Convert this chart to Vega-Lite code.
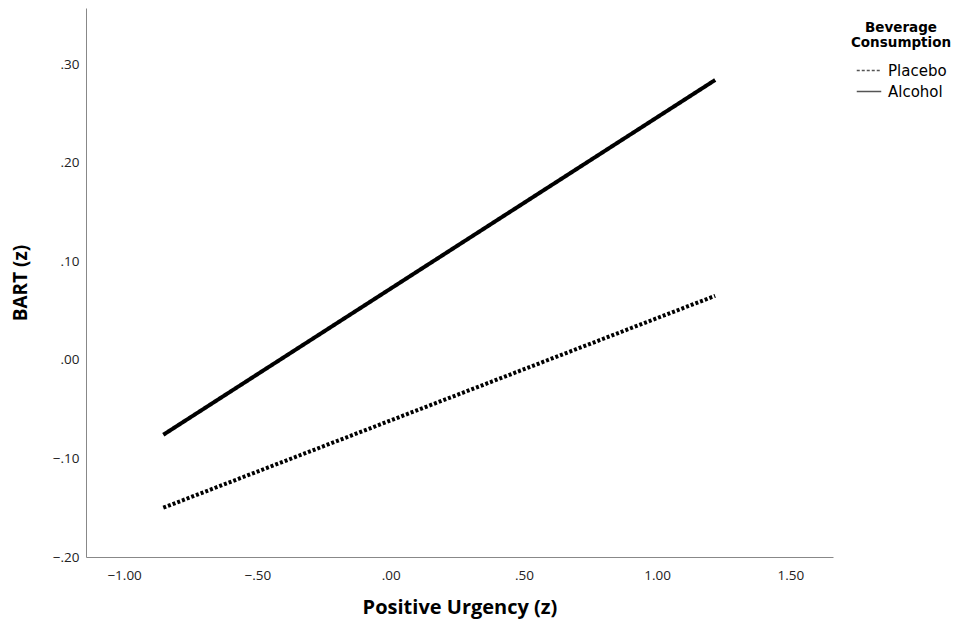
{
  "$schema": "https://vega.github.io/schema/vega-lite/v6.json",
  "autosize": "none",
  "width": 747,
  "height": 549,
  "padding": {"left": 86, "top": 8, "right": 123, "bottom": 72},
  "background": "white",
  "config": {
    "view": {"stroke": null},
    "font": "Open Sans"
  },
  "data": {
    "values": [
      {"urgency": -0.853, "bart": -0.150, "group": "Placebo"},
      {"urgency": 1.218, "bart": 0.065, "group": "Placebo"},
      {"urgency": -0.853, "bart": -0.076, "group": "Alcohol"},
      {"urgency": 1.218, "bart": 0.284, "group": "Alcohol"}
    ]
  },
  "mark": {"type": "line", "strokeWidth": 4, "strokeCap": "butt", "color": "black"},
  "encoding": {
    "x": {
      "field": "urgency", "type": "quantitative",
      "scale": {"domain": [-1.143, 1.66], "nice": false, "zero": false},
      "axis": {
        "title": "Positive Urgency (z)", "titleFont": "Open Sans", "titleFontSize": 20, "titleFontWeight": "bold",
        "titleColor": "black", "titlePadding": 16,
        "values": [-1, -0.5, 0, 0.5, 1, 1.5],
        "labelExpr": "replace(format(datum.value, '.2f'), '0.', '.')",
        "labelFontSize": 13.5, "labelColor": "#222", "labelPadding": 11,
        "ticks": false, "grid": false, "domainColor": "#888", "domainWidth": 1
      }
    },
    "y": {
      "field": "bart", "type": "quantitative",
      "scale": {"domain": [-0.2, 0.357], "nice": false, "zero": false},
      "axis": {
        "title": "BART (z)", "titleFont": "Open Sans", "titleFontSize": 19, "titleFontWeight": "bold",
        "titleColor": "black", "titlePadding": 22,
        "values": [-0.2, -0.1, 0, 0.1, 0.2, 0.3],
        "labelExpr": "replace(format(datum.value, '.2f'), '0.', '.')",
        "labelFontSize": 13.5, "labelColor": "#222", "labelPadding": 7,
        "ticks": false, "grid": false, "domainColor": "#888", "domainWidth": 1
      }
    },
    "strokeDash": {
      "field": "group", "type": "nominal",
      "scale": {"domain": ["Placebo", "Alcohol"], "range": [[3, 2], [1, 0]]},
      "legend": {
        "title": ["Beverage", "Consumption"],
        "orient": "none", "legendX": 765, "legendY": 13,
        "titleFont": "DejaVu Sans", "titleFontSize": 13.5, "titleFontWeight": "bold", "titleColor": "black",
        "titleAlign": "center", "titleAnchor": "middle",
        "titleLineHeight": 15, "titlePadding": 8,
        "labelFont": "DejaVu Sans", "labelFontSize": 15, "labelColor": "black",
        "symbolType": "stroke", "symbolSize": 600, "symbolStrokeWidth": 1.5, "symbolStrokeColor": "#555",
        "rowPadding": 0, "labelOffset": 6
      }
    }
  }
}
